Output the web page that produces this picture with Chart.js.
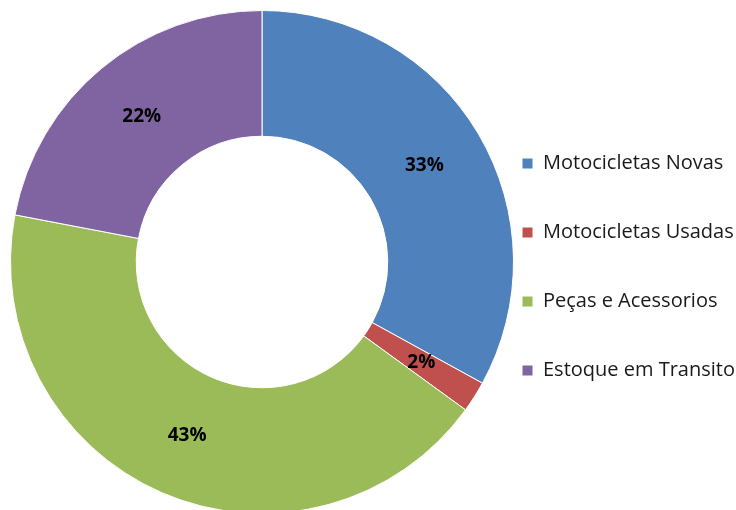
<!DOCTYPE html>
<html>
<head>
<meta charset="utf-8">
<script src="https://cdn.jsdelivr.net/npm/chart.js@4"></script>
<style>
  html, body { margin: 0; padding: 0; background: #fff; }
  #wrap { width: 736px; height: 510px; overflow: hidden; }
</style>
</head>
<body>
<div id="wrap"><canvas id="pieChart" width="736" height="520"></canvas></div>
<script>
// Chart data
const categories = ['Motocicletas Novas', 'Motocicletas Usadas', 'Peças e Acessorios', 'Estoque em Transito'];
const shares = [33, 2, 43, 22];
const sliceColors = ['#4F81BD', '#C0504D', '#9BBB59', '#8064A2'];

const legendPadding = 49;

// Draws the percentage in the middle of each ring segment
const sliceLabels = {
    id: 'sliceLabels',
    afterDatasetsDraw(chart) {
        const ctx = chart.ctx;
        const meta = chart.getDatasetMeta(0);
        ctx.save();
        ctx.font = 'bold 19px "Open Sans"';
        ctx.fillStyle = '#000';
        ctx.textAlign = 'center';
        ctx.textBaseline = 'middle';
        meta.data.forEach((arc, i) => {
            const pos = arc.tooltipPosition();
            ctx.fillText(shares[i] + '%', pos.x, pos.y);
        });
        ctx.restore();
    }
};

// Legend sits in the chart area, so move it to the right of the ring
const legendSpot = {
    id: 'legendSpot',
    afterLayout(chart) {
        const lg = chart.legend;
        const dx = 522 - legendPadding - lg.left;
        lg.left += dx;
        lg.right += dx;
        lg.top += 15;
        lg.bottom += 15;
    }
};

const ctx = document.getElementById('pieChart').getContext('2d');
new Chart(ctx, {
    type: 'doughnut',
    data: {
        labels: categories,
        datasets: [{
            data: shares,
            backgroundColor: sliceColors,
            borderColor: '#fff',
            borderWidth: 1
        }]
    },
    options: {
        responsive: false,
        animation: false,
        cutout: '50%',
        layout: { padding: { top: 10, bottom: 6, left: 10, right: 222 } },
        plugins: {
            legend: {
                position: 'chartArea',
                align: 'center',
                labels: {
                    boxWidth: 11,
                    boxHeight: 11,
                    padding: legendPadding,
                    color: '#1a1a1a',
                    font: { family: 'Open Sans', size: 20 }
                }
            },
            tooltip: { enabled: false }
        }
    },
    plugins: [sliceLabels, legendSpot]
});
</script>
</body>
</html>
